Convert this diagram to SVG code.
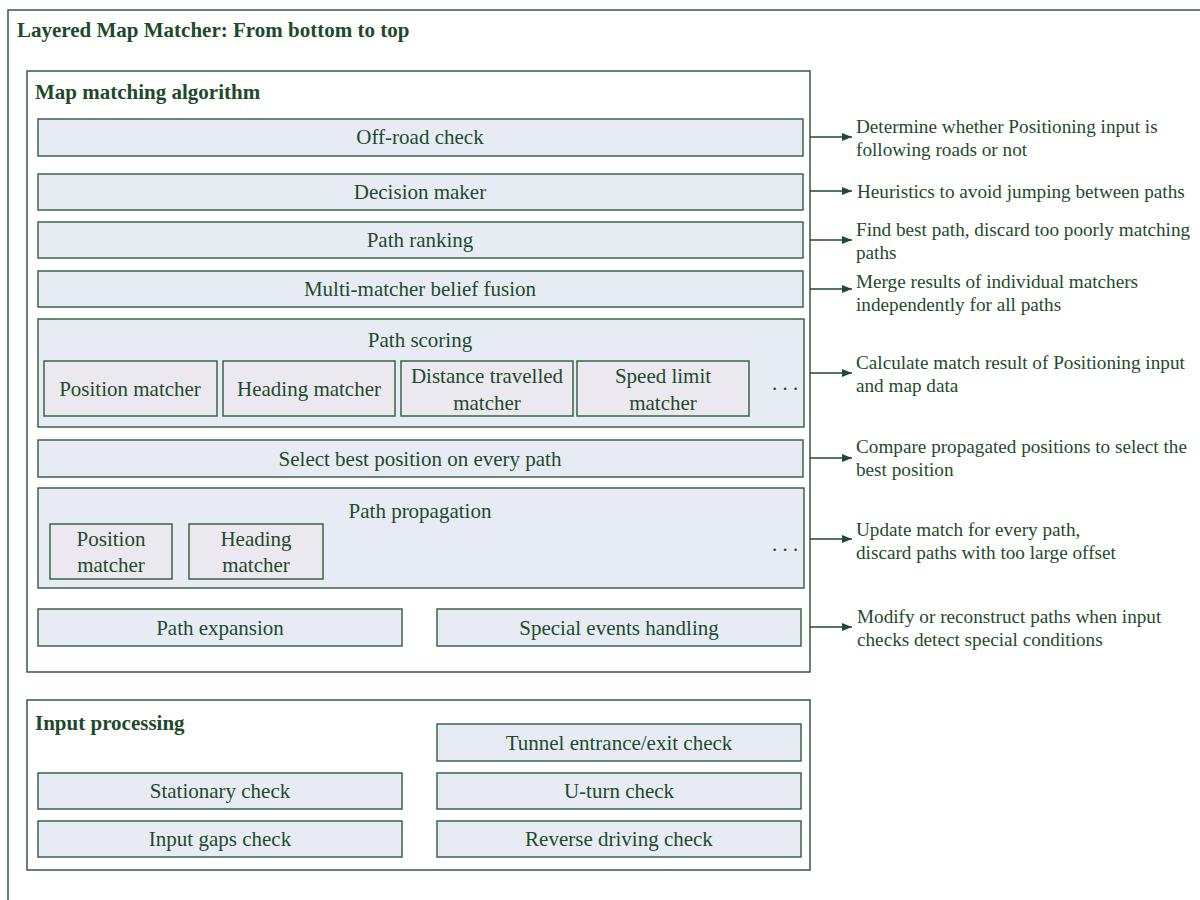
<svg xmlns="http://www.w3.org/2000/svg" width="1200" height="900" viewBox="0 0 1200 900">
<style>
.frame{fill:#ffffff;stroke:#2f5e3c;stroke-width:1.5}
.box{fill:#e7ecf4;stroke:#3a6647;stroke-width:1.5}
.sub{fill:#ece8ef;stroke:#3a6647;stroke-width:1.5}
.t{font-family:"Liberation Serif","Times New Roman",serif;font-size:21px;fill:#1f4a2d;text-anchor:middle}
.h{font-family:"Liberation Serif","Times New Roman",serif;font-size:21px;font-weight:bold;fill:#1d4a2c}
.n{font-family:"Liberation Serif","Times New Roman",serif;font-size:19.2px;fill:#1f4a2d}
.c{stroke:#1f4a2d;stroke-width:1.5;fill:none}
</style>
<defs>
<marker id="arr" markerWidth="10" markerHeight="8" refX="10" refY="4" orient="auto" markerUnits="userSpaceOnUse">
<path d="M0,0 L10,4 L0,8 Z" fill="#1f4a2d"/>
</marker>
</defs>
<rect width="1200" height="900" fill="#ffffff"/>
<g id="outer">
<rect class="frame" x="8" y="10" width="1200" height="900"/>
<text class="h" x="17" y="37">Layered Map Matcher: From bottom to top</text>
</g>
<g id="map-matching">
<rect class="frame" x="27" y="71" width="783" height="601"/>
<text class="h" x="35" y="99">Map matching algorithm</text>
</g>
<g id="off-road">
<rect class="box" x="38" y="119" width="765" height="37"/>
<text class="t" x="420" y="144">Off-road check</text>
</g>
<g id="decision-maker">
<rect class="box" x="38" y="174" width="765" height="36"/>
<text class="t" x="420" y="199">Decision maker</text>
</g>
<g id="path-ranking">
<rect class="box" x="38" y="222" width="765" height="36"/>
<text class="t" x="420" y="247">Path ranking</text>
</g>
<g id="belief-fusion">
<rect class="box" x="38" y="271" width="765" height="36"/>
<text class="t" x="420" y="296">Multi-matcher belief fusion</text>
</g>
<g id="path-scoring">
<rect class="box" x="38" y="319" width="766" height="108"/>
<text class="t" x="420" y="347">Path scoring</text>
<rect class="sub" x="44" y="361" width="173" height="55"/>
<text class="t" x="130" y="396">Position matcher</text>
<rect class="sub" x="223" y="361" width="172" height="55"/>
<text class="t" x="309" y="396">Heading matcher</text>
<rect class="sub" x="401" y="361" width="172" height="55"/>
<text class="t" x="487" y="383">Distance travelled</text>
<text class="t" x="487" y="410">matcher</text>
<rect class="sub" x="577" y="361" width="172" height="55"/>
<text class="t" x="663" y="383">Speed limit</text>
<text class="t" x="663" y="410">matcher</text>
<text class="t" x="785" y="390">. . .</text>
</g>
<g id="select-best">
<rect class="box" x="38" y="440" width="765" height="37"/>
<text class="t" x="420" y="466">Select best position on every path</text>
</g>
<g id="path-propagation">
<rect class="box" x="38" y="488" width="766" height="100"/>
<text class="t" x="420" y="518">Path propagation</text>
<rect class="sub" x="50" y="524" width="122" height="55"/>
<text class="t" x="111" y="546">Position</text>
<text class="t" x="111" y="572">matcher</text>
<rect class="sub" x="189" y="524" width="134" height="55"/>
<text class="t" x="256" y="546">Heading</text>
<text class="t" x="256" y="572">matcher</text>
<text class="t" x="785" y="551">. . .</text>
</g>
<g id="path-expansion">
<rect class="box" x="38" y="609" width="364" height="37"/>
<text class="t" x="220" y="635">Path expansion</text>
</g>
<g id="special-events">
<rect class="box" x="437" y="609" width="364" height="37"/>
<text class="t" x="619" y="635">Special events handling</text>
</g>
<g id="input-processing">
<rect class="frame" x="27" y="700" width="783" height="170"/>
<text class="h" x="35" y="730">Input processing</text>
</g>
<g id="tunnel-check">
<rect class="box" x="437" y="724" width="364" height="37"/>
<text class="t" x="619" y="750">Tunnel entrance/exit check</text>
</g>
<g id="stationary-check">
<rect class="box" x="38" y="773" width="364" height="36"/>
<text class="t" x="220" y="798">Stationary check</text>
</g>
<g id="u-turn-check">
<rect class="box" x="437" y="773" width="364" height="36"/>
<text class="t" x="619" y="798">U-turn check</text>
</g>
<g id="input-gaps-check">
<rect class="box" x="38" y="821" width="364" height="36"/>
<text class="t" x="220" y="846">Input gaps check</text>
</g>
<g id="reverse-driving-check">
<rect class="box" x="437" y="821" width="364" height="36"/>
<text class="t" x="619" y="846">Reverse driving check</text>
</g>
<g id="connectors">
<line class="c" x1="810" y1="137" x2="852" y2="137" marker-end="url(#arr)"/>
<line class="c" x1="810" y1="191" x2="852" y2="191" marker-end="url(#arr)"/>
<line class="c" x1="810" y1="240" x2="852" y2="240" marker-end="url(#arr)"/>
<line class="c" x1="810" y1="289" x2="852" y2="289" marker-end="url(#arr)"/>
<line class="c" x1="810" y1="373" x2="852" y2="373" marker-end="url(#arr)"/>
<line class="c" x1="810" y1="458" x2="852" y2="458" marker-end="url(#arr)"/>
<line class="c" x1="810" y1="539" x2="852" y2="539" marker-end="url(#arr)"/>
<line class="c" x1="810" y1="627" x2="852" y2="627" marker-end="url(#arr)"/>
</g>
<g id="notes">
<text class="n" x="856" y="133">Determine whether Positioning input is</text>
<text class="n" x="856" y="156">following roads or not</text>
<text class="n" x="857" y="198">Heuristics to avoid jumping between paths</text>
<text class="n" x="856" y="236">Find best path, discard too poorly matching</text>
<text class="n" x="856" y="259">paths</text>
<text class="n" x="856" y="288">Merge results of individual matchers</text>
<text class="n" x="856" y="311">independently for all paths</text>
<text class="n" x="856" y="369">Calculate match result of Positioning input</text>
<text class="n" x="856" y="392">and map data</text>
<text class="n" x="856" y="453">Compare propagated positions to select the</text>
<text class="n" x="856" y="476">best position</text>
<text class="n" x="856" y="536">Update match for every path,</text>
<text class="n" x="856" y="559">discard paths with too large offset</text>
<text class="n" x="857" y="623">Modify or reconstruct paths when input</text>
<text class="n" x="857" y="646">checks detect special conditions</text>
</g>
</svg>
